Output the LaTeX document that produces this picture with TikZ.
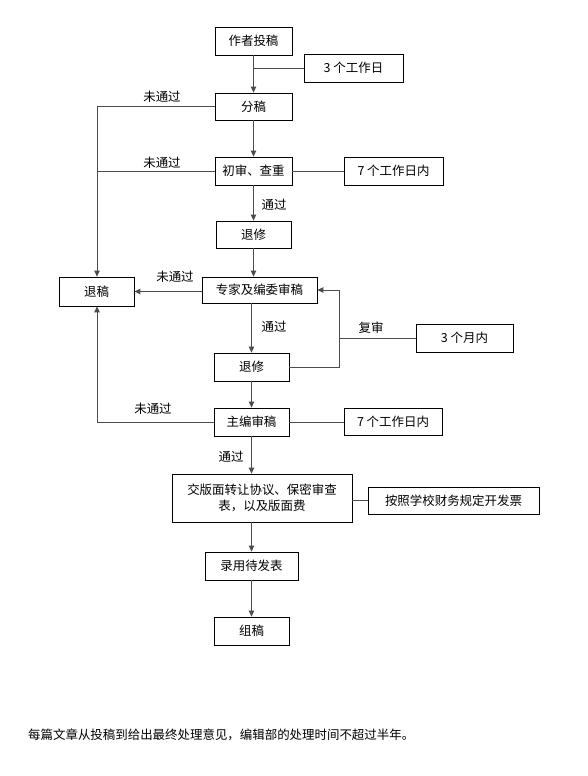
\documentclass[tikz,border=0pt]{standalone}
\usepackage{fontspec}
\setmainfont{Noto Sans CJK SC}
\usetikzlibrary{arrows.meta}
\tikzset{
  box/.style={draw=black, line width=0.8pt, inner sep=0pt, align=center, font=\fontsize{12.5}{16}\selectfont},
  lbl/.style={inner sep=0pt, font=\fontsize{12.5}{15}\selectfont},
  conn/.style={draw=black!70, line width=0.9pt},
  arr/.style={conn, -{Triangle[length=6pt,width=5.5pt]}}
}
\begin{document}
\begin{tikzpicture}[x=1bp,y=-1bp]
\fill[white] (0,0) rectangle (588,776);
\useasboundingbox (0,0) rectangle (588,776);
% main column
\node[box, minimum width=77bp, minimum height=28bp] (n1) at (253.5,41) {作者投稿};
\node[box, minimum width=99bp, minimum height=28bp] (d1) at (353.5,68) {3 个工作日};
\node[box, minimum width=77bp, minimum height=27bp] (n2) at (253.5,106.5) {分稿};
\node[box, minimum width=77bp, minimum height=28bp] (n3) at (253.5,171) {初审、查重};
\node[box, minimum width=99bp, minimum height=28bp] (d3) at (393.5,171) {7 个工作日内};
\node[box, minimum width=75bp, minimum height=27bp] (n4) at (253.5,234.5) {退修};
\node[box, minimum width=115bp, minimum height=26bp] (n5) at (259.5,290) {专家及编委审稿};
\node[box, minimum width=75bp, minimum height=29bp] (rej) at (96.5,291.5) {退稿};
\node[box, minimum width=75bp, minimum height=28bp] (n6) at (251.5,367) {退修};
\node[box, minimum width=97bp, minimum height=28bp] (d6) at (464.5,338) {3 个月内};
\node[box, minimum width=75bp, minimum height=28bp] (n7) at (251.5,422) {主编审稿};
\node[box, minimum width=98bp, minimum height=27bp] (d7) at (393,422) {7 个工作日内};
\node[box, minimum width=180bp, minimum height=48bp] (n8) at (262,498) {交版面转让协议、保密审查\\表，以及版面费};
\node[box, minimum width=171bp, minimum height=27bp] (d8) at (453.5,500.5) {按照学校财务规定开发票};
\node[box, minimum width=93bp, minimum height=28bp] (n9) at (251.5,566) {录用待发表};
\node[box, minimum width=75bp, minimum height=28bp] (n10) at (251.5,631) {组稿};

% labels
\node[lbl] (l1) at (162,97) {未通过};
\node[lbl] (l2) at (162,163) {未通过};
\node[lbl] (l3) at (175,277) {未通过};
\node[lbl] (l4) at (153,409) {未通过};
\node[lbl] (p1) at (274,205) {通过};
\node[lbl] (p2) at (274,327) {通过};
\node[lbl] (p3) at (231,457) {通过};
\node[lbl] (r1) at (371,328) {复审};
\node[lbl, anchor=west] (foot) at (28,735) {每篇文章从投稿到给出最终处理意见，编辑部的处理时间不超过半年。};

% coordinates
\coordinate (b1) at (253.5,68);
\coordinate (c2) at (97,106.5);
\coordinate (c3) at (97,171);
\coordinate (c7) at (97,422);
\coordinate (k1) at (339,367);
\coordinate (k2) at (339,290);
\coordinate (k3) at (339,338);

% connectors
\draw[arr] (n1) -- (n2);
\draw[conn] (b1) -- (d1.west);
\draw[arr] (n2) -- (n3);
\draw[conn] (n2.west) -- (c2) -- (c3);
\draw[conn] (n3.west) -- (c3);
\draw[arr] (c3) -- (rej.north -| c3);
\draw[conn] (n3) -- (d3);
\draw[arr] (n3) -- (n4);
\draw[arr] (n4.south) -- (n4.south |- n5.north);
\draw[arr] (n5.west |- rej.east) -- (rej.east);
\draw[arr] (n6.north |- n5.south) -- (n6.north);
\draw[conn] (n6.east) -- (k1) -- (k2);
\draw[arr] (k2) -- (n5.east);
\draw[conn] (k3) -- (d6.west);
\draw[conn] (n7.west) -- (c7);
\draw[arr] (c7) -- (rej.south -| c7);
\draw[arr] (n6) -- (n7);
\draw[conn] (n7) -- (d7);
\draw[arr] (n7.south) -- (n7.south |- n8.north);
\draw[conn] (n8.east |- d8.west) -- (d8.west);
\draw[arr] (n8.south -| n9) -- (n9.north);
\draw[arr] (n9) -- (n10);
\end{tikzpicture}
\end{document}
